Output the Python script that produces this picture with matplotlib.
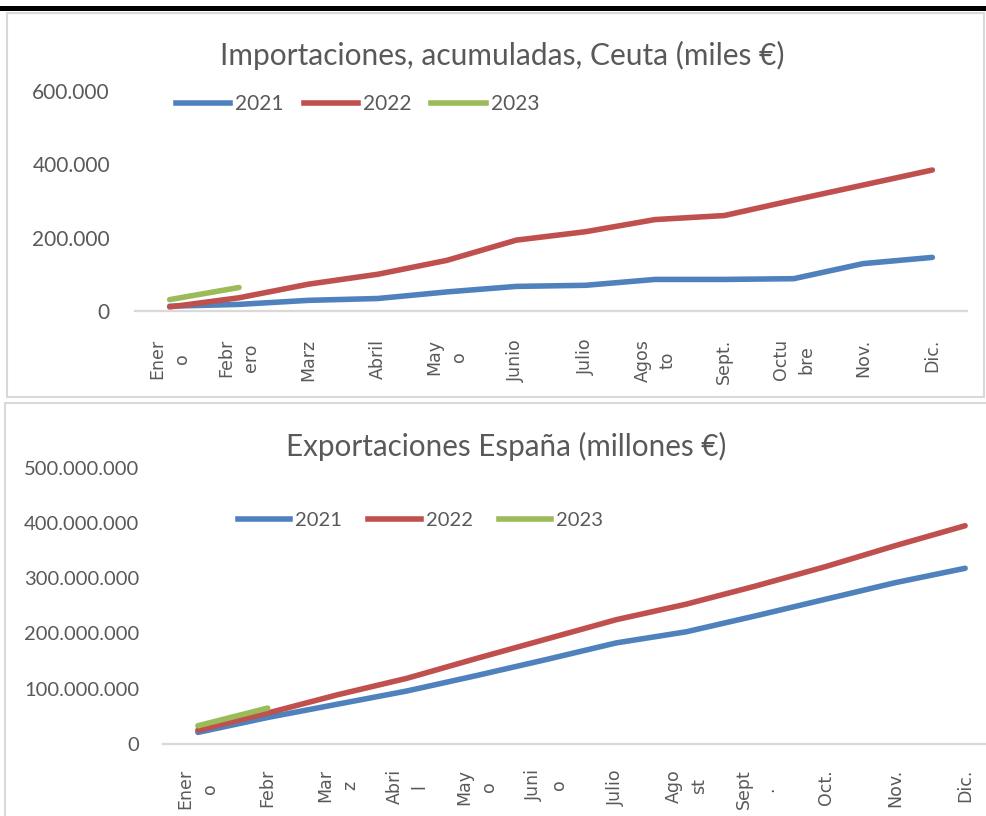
import numpy as np
import matplotlib
matplotlib.use('Agg')
import matplotlib.pyplot as plt
from matplotlib.patches import Rectangle
from matplotlib.lines import Line2D
from matplotlib.ticker import FuncFormatter

# datos
meses_imp = ['Ener\no', 'Febr\nero', 'Marz', 'Abril', 'May\no', 'Junio', 'Julio',
             'Agos\nto', 'Sept.', 'Octu\nbre', 'Nov.', 'Dic.']
imp_2021 = [13000, 18000, 29000, 34000, 52000, 67000, 70000, 86000, 86000, 88000, 129000, 146000]
imp_2022 = [11000, 36000, 73000, 100000, 138000, 193000, 216000, 249000, 260000, 302000, 343000, 384000]
imp_2023 = [31000, 64000]

meses_exp = ['Ener\no', 'Febr', 'Mar\nz', 'Abri\nl', 'May\no', 'Juni\no', 'Julio',
             'Ago\nst', 'Sept\n.', 'Oct.', 'Nov.', 'Dic.']
exp_2021 = [21e6, 48e6, 72e6, 96e6, 124e6, 153e6, 183e6, 203e6, 232e6, 262e6, 292e6, 318e6]
exp_2022 = [25e6, 56e6, 89e6, 119e6, 155e6, 190e6, 225e6, 253e6, 286e6, 321e6, 359e6, 395e6]
exp_2023 = [33e6, 65e6]

anios = ['2021', '2022', '2023']
colores = ['#4F81BD', '#C0504D', '#9BBB59']
gris = '#595959'
fuente = 'Lato'


def miles(v, pos):
    return '{:,.0f}'.format(v).replace(',', '.')


def dibujar(ax, meses, series, ymax, paso, fs_tick, pad_x, pad_y, leg_pos, leg_sp):
    x = np.arange(len(meses))
    for vals, c in zip(series, colores):
        ax.plot(x[:len(vals)], vals, color=c, lw=4, solid_capstyle='round',
                solid_joinstyle='round')
    ax.set_xlim(-0.5, len(meses) - 0.5)
    ax.set_ylim(0, ymax)
    ax.set_yticks(np.arange(0, ymax + 1, paso))
    ax.yaxis.set_major_formatter(FuncFormatter(miles))
    ax.set_xticks(x)
    ax.set_xticklabels(meses, rotation=90, va='top', ha='center', multialignment='center',
                       fontsize=12.5, color=gris, family='DejaVu Sans', linespacing=1.5)
    for s in ['top', 'right', 'left']:
        ax.spines[s].set_visible(False)
    ax.spines['bottom'].set_color('#D9D9D9')
    ax.spines['bottom'].set_linewidth(1.6)
    ax.tick_params(axis='both', length=0)
    ax.tick_params(axis='x', pad=pad_x)
    ax.tick_params(axis='y', pad=pad_y, labelsize=fs_tick, labelcolor=gris)
    for t in ax.get_yticklabels():
        t.set_family(fuente)
    handles = [Line2D([0], [0], color=c, lw=4) for c in colores]
    ax.legend(handles, anios, loc='center left', bbox_to_anchor=leg_pos,
              bbox_transform=ax.figure.transFigure, ncol=3, frameon=False,
              handlelength=2.6, handletextpad=0.25, columnspacing=leg_sp,
              prop={'family': fuente, 'size': fs_tick}, labelcolor=gris,
              borderpad=0, borderaxespad=0)


fig = plt.figure(figsize=(9.87, 8.16), dpi=100)
W, H = 987.0, 816.0

# marcos de los graficos y linea superior
fig.add_artist(Line2D([0, 1], [1 - 7.5 / H, 1 - 7.5 / H], color='black', lw=3.6))
fig.add_artist(Rectangle((7 / W, 1 - 397 / H), 977 / W, 384 / H, fill=False,
                         ec='#D9D9D9', lw=1.5))
fig.add_artist(Rectangle((5 / W, -0.05), 1.0, (0.05 + 1 - 403 / H), fill=False,
                         ec='#D9D9D9', lw=1.5))

# importaciones Ceuta
ax1 = fig.add_axes([135 / W, 1 - 311 / H, 832 / W, 220.3 / H])
dibujar(ax1, meses_imp, [imp_2021, imp_2022, imp_2023], 600000, 200000,
        15, 20, 18, (176 / W, 1 - 104 / H), 0.95)
fig.text(502 / W, 1 - 55 / H, 'Importaciones, acumuladas, Ceuta (miles €)',
         ha='center', va='center', fontsize=21.5, color=gris, family=fuente)

# exportaciones Espana
ax2 = fig.add_axes([163 / W, 1 - 744 / H, 837 / W, 276.3 / H])
dibujar(ax2, meses_exp, [exp_2021, exp_2022, exp_2023], 500e6, 100e6,
        14.5, 18, 17, (238 / W, 1 - 520 / H), 1.3)
fig.text(506 / W, 1 - 446 / H, 'Exportaciones España (millones €)',
         ha='center', va='center', fontsize=21.3, color=gris, family=fuente)

fig.savefig('out.png', dpi=100)
